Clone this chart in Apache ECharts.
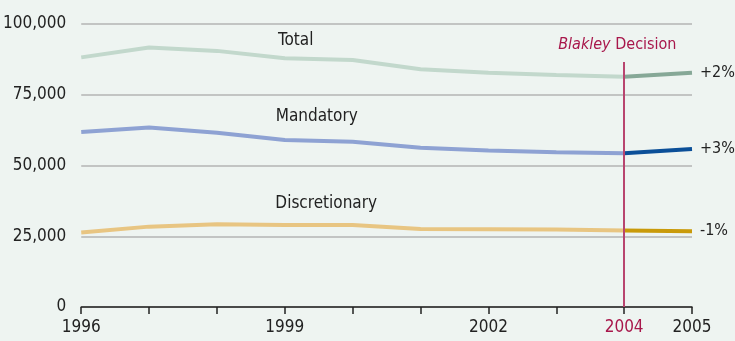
<!DOCTYPE html>
<html>
<head>
<meta charset="utf-8">
<script src="https://cdn.jsdelivr.net/npm/echarts@6/dist/echarts.min.js"></script>
<style>
  html, body { margin: 0; padding: 0; background: #eef4f1; }
  #chart { width: 735px; height: 341px; }
</style>
</head>
<body>
<div id="chart"></div>
<script>
// data
const years = [1996, 1997, 1998, 1999, 2000, 2001, 2002, 2003, 2004, 2005];
const total = [88200, 91700, 90500, 87900, 87300, 84000, 82800, 82000, 81400, 82800];
const mandatory = [61800, 63400, 61600, 59000, 58400, 56300, 55300, 54700, 54300, 55800];
const discretionary = [26300, 28400, 29200, 29000, 29000, 27600, 27500, 27400, 27000, 26800];
const changeLabels = ["+2%", "+3%", "-1%"];
const yTicks = [0, 25000, 50000, 75000, 100000];
const shownYears = [1996, 1999, 2002, 2004, 2005];
const decisionYear = 2004;

const font = '"DejaVu Sans Condensed", "Liberation Sans", sans-serif';

// split a series into the part before and after the decision
function before(vals) {
  return years.map((y, i) => [y, vals[i]]).filter(d => d[0] <= decisionYear);
}
function after(vals) {
  return years.map((y, i) => [y, vals[i]]).filter(d => d[0] >= decisionYear);
}

// scatter point with no visible mark, only a text
function textSeries(text, coord, style) {
  return {
    type: "scatter",
    data: [coord],
    symbolSize: 1,
    itemStyle: { color: "transparent", opacity: 1 },
    silent: true,
    z: 6,
    label: Object.assign({
      show: true,
      position: "inside",
      formatter: text,
      color: "#222",
      fontSize: 17,
      fontFamily: font,
    }, style || {}),
  };
}

function lightLine(name, vals, color) {
  return {
    name: name,
    type: "line",
    data: before(vals),
    symbol: "none",
    lineStyle: { color: color, width: 4 },
    z: 3,
  };
}

function darkLine(name, vals, color, change) {
  return {
    name: name + " after",
    type: "line",
    data: after(vals),
    symbol: "none",
    lineStyle: { color: color, width: 4 },
    z: 4,
    endLabel: {
      show: true,
      formatter: change,
      distance: 8,
      color: "#222",
      fontSize: 16,
      fontFamily: font,
    },
  };
}

const myChart = echarts.init(document.getElementById("chart"));
myChart.setOption({
  backgroundColor: "#eef4f1",
  animation: false,
  grid: { left: 80, right: 43, top: 24, bottom: 34 },
  xAxis: {
    type: "value",
    min: 1996,
    max: 2005,
    interval: 1,
    splitLine: { show: false },
    axisLine: { show: true, lineStyle: { color: "#222", width: 1.5 } },
    axisTick: { show: true, length: 7, lineStyle: { color: "#222", width: 1.5 } },
    axisLabel: {
      margin: 12,
      fontSize: 17,
      fontFamily: font,
      color: "#222",
      showMinLabel: true,
      showMaxLabel: true,
      formatter: function (v) {
        if (v === decisionYear) return "{red|" + v + "}";
        return shownYears.indexOf(v) >= 0 ? String(v) : "";
      },
      rich: {
        red: { color: "#a8174b", fontSize: 17, fontFamily: font },
      },
    },
  },
  yAxis: {
    type: "value",
    min: yTicks[0],
    max: yTicks[yTicks.length - 1],
    interval: 25000,
    axisLine: { show: false },
    axisTick: { show: false },
    splitLine: { show: true, lineStyle: { color: "#c2c4c3", width: 2 } },
    axisLabel: {
      margin: 15,
      fontSize: 17,
      fontFamily: font,
      color: "#222",
      formatter: v => v.toLocaleString("en-US"),
    },
  },
  series: [
    lightLine("Total", total, "#c2d8cc"),
    lightLine("Mandatory", mandatory, "#8ea2d3"),
    lightLine("Discretionary", discretionary, "#e8c582"),
    darkLine("Total", total, "#86a897", changeLabels[0]),
    darkLine("Mandatory", mandatory, "#0b4f98", changeLabels[1]),
    darkLine("Discretionary", discretionary, "#c99a0a", changeLabels[2]),
    textSeries("Total", [1999.16, 94300]),
    textSeries("Mandatory", [1999.47, 67200]),
    textSeries("Discretionary", [1999.61, 36400]),
    textSeries("{i|Blakley} Decision", [2003.9, 92500], {
      color: "#a8174b",
      fontSize: 16,
      rich: {
        i: { fontStyle: "italic", color: "#a8174b", fontSize: 16, fontFamily: font },
      },
    }),
    {
      name: "decision",
      type: "line",
      data: [],
      z: 5,
      markLine: {
        symbol: "none",
        silent: true,
        lineStyle: { color: "#b8456f", width: 2, type: "solid" },
        label: { show: false },
        data: [[{ coord: [decisionYear, 0] }, { coord: [decisionYear, 86600] }]],
      },
    },
  ],
});
</script>
</body>
</html>
